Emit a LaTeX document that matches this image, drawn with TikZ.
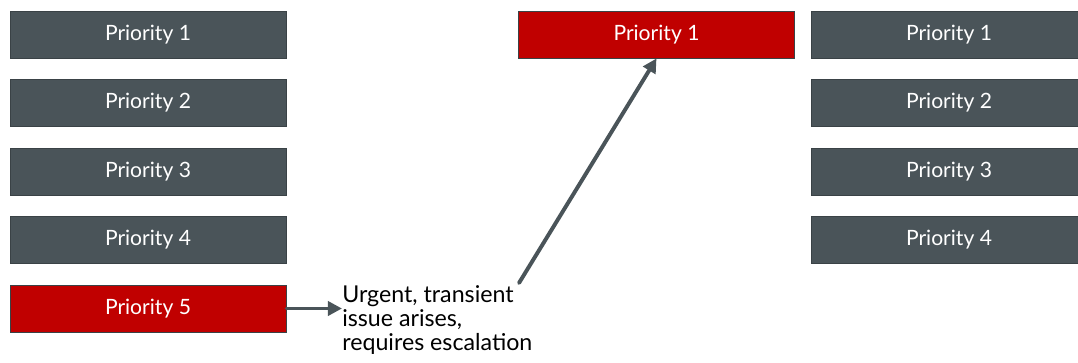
\documentclass[tikz,border=0pt]{standalone}
\usepackage{fontspec}
\setmainfont{Lato}
\usetikzlibrary{arrows.meta}
\definecolor{slate}{HTML}{4A5459}
\definecolor{slateedge}{HTML}{3A4246}
\definecolor{alarm}{HTML}{C00000}
\tikzset{
  prio/.style={draw=slateedge,line width=0.6pt,fill=slate,text=white,
    minimum width=6.9cm,minimum height=1.175cm,inner sep=0pt,
    font=\fontsize{15}{18}\selectfont},
  hot/.style={prio,fill=alarm},
  push/.style={draw=slate,line cap=round,-{Triangle[length=10pt,width=10pt]}}
}
\begin{document}
\begin{tikzpicture}[x=0.025cm,y=-0.025cm]
            \useasboundingbox (0,0) rectangle (1078,362);
            % queue before
            \node [prio] (a1) at (148,34.5) {Priority 1};
            \node [prio] (a2) at (148,103) {Priority 2};
            \node [prio] (a3) at (148,171.5) {Priority 3};
            \node [prio] (a4) at (148,240) {Priority 4};
            \node [hot] (a5) at (148,308.5) {Priority 5};
            % escalated item
            \node [hot] (top) at (656.5,34.5) {Priority 1};
            % queue after
            \node [prio] (b1) at (949,34.5) {Priority 1};
            \node [prio] (b2) at (949,103) {Priority 2};
            \node [prio] (b3) at (949,171.5) {Priority 3};
            \node [prio] (b4) at (949,240) {Priority 4};
            % note and arrows
            \node [anchor=north west,align=left,inner sep=0pt,
              font=\fontsize{16.5}{17.2}\selectfont] (note) at (342,285)
              {Urgent, transient\\issue arises,\\requires escalation};
            \coordinate (rise) at (519,283);
            \draw [push,line width=2.6pt] (a5.east) -- (a5.east -| note.west);
            \draw [push,line width=2.8pt] (rise) -- (top.south);
\end{tikzpicture}
\end{document}
